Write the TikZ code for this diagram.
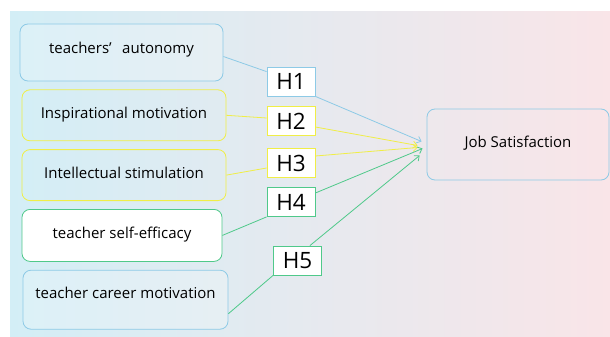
\documentclass[tikz,border=0pt]{standalone}
\usepackage{fontspec}
\setmainfont{Open Sans}
\usetikzlibrary{arrows.meta, positioning}

\definecolor{lineblue}{HTML}{8DCAE6}
\definecolor{lineyellow}{HTML}{F0EE46}
\definecolor{linegreen}{HTML}{4FC98A}
\definecolor{bgleft}{HTML}{D3EEF6}
\definecolor{bgright}{HTML}{F9E5E8}

\begin{document}
\begin{tikzpicture}[
  x=1pt, y=-1pt,
  font=\fontsize{15}{18}\selectfont,
  factor/.style={draw, rounded corners=8pt, align=center, minimum height=51pt, line width=0.8pt, inner sep=2pt, text depth=5pt},
  hyp/.style={draw, fill=white, minimum width=48pt, minimum height=29pt, inner sep=0pt, font=\fontsize{22.5}{26}\selectfont, line width=0.8pt},
  link/.style={line width=0.8pt},
  >={Straight Barb[length=4pt, width=7pt]}, node distance=8pt
]
% background
\useasboundingbox (0,0) rectangle (610,337);
\fill[left color=bgleft, right color=bgright] (10,12) rectangle (610,337);

% factors
\node[factor, draw=lineblue, fill=white, fill opacity=.2, text opacity=1, minimum width=203pt, minimum height=57pt, text depth=10pt] (auton) at (121.5,52.5) {teachers’\hspace{.7em}autonomy};
\node[factor, draw=lineyellow, minimum width=204pt, below=of auton, xshift=2.5pt] (insp) {Inspirational motivation};
\node[factor, draw=lineyellow, minimum width=204pt, below=of insp] (intel) {Intellectual stimulation};
\node[factor, draw=linegreen, fill=white, minimum width=200pt, minimum height=52pt, below=of intel, xshift=-2pt] (self) {teacher self-efficacy};
\node[factor, draw=lineblue, fill=white, fill opacity=.2, text opacity=1, minimum width=205pt, minimum height=59pt, text depth=13pt, below=of self, xshift=3.5pt] (career) {teacher career motivation};

% outcome
\node[factor, draw=lineblue, minimum width=182pt, minimum height=71pt] (job) at (518,144.5) {Job Satisfaction};

% hypotheses
\node[hyp, draw=lineblue] (h1) at (291,81.5) {H1};
\node[hyp, draw=lineyellow] (h2) at (291,121) {H2};
\node[hyp, draw=lineyellow] (h3) at (291,163) {H3};
\node[hyp, draw=linegreen] (h4) at (291,202) {H4};
\node[hyp, draw=linegreen] (h5) at (297.5,260.5) {H5};

% paths
\draw[link, lineblue] ([yshift=-4pt]auton.east) -- ([yshift=-5pt]h1.north west);
\draw[link, lineblue, ->] (h1.south east) -- ([xshift=-5pt, yshift=3pt]job.west);
\draw[link, lineyellow] (insp.east) -- ([yshift=3pt]h2.west);
\draw[link, lineyellow, ->] ([yshift=-6pt]h2.east) -- ([xshift=-9pt, yshift=-1pt]job.west);
\draw[link, lineyellow] (intel.east) -- ([yshift=-5pt]h3.west);
\draw[link, lineyellow, ->] ([yshift=7pt]h3.east) -- ([xshift=-9pt, yshift=-3pt]job.west);
\draw[link, linegreen] (self.east) -- (h4.south west);
\draw[link, linegreen, ->] ([yshift=9pt]h4.east) -- ([xshift=-4pt, yshift=-4pt]job.west);
\draw[link, linegreen] ([yshift=-14pt]career.east) -- (h5.south west);
\draw[link, linegreen, ->] ([xshift=-12pt]h5.north east) -- ([xshift=-7pt, yshift=-11pt]job.west);
\end{tikzpicture}
\end{document}
